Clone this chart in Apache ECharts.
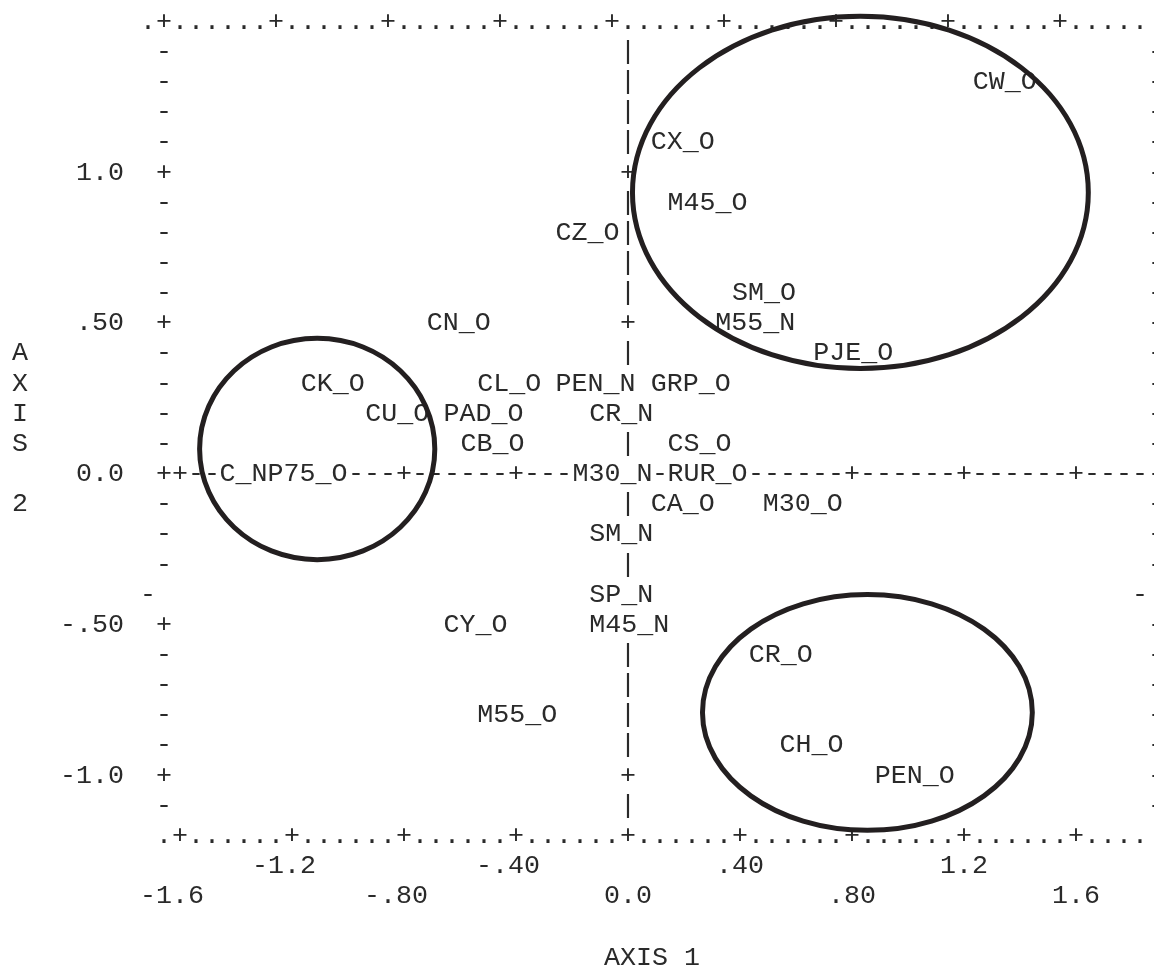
<!DOCTYPE html>
<html><head><meta charset="utf-8">
<script src="https://cdn.jsdelivr.net/npm/echarts@6/dist/echarts.min.js"></script>
<style>html,body{margin:0;padding:0;background:#fff}#c{width:1154px;height:967px}</style>
</head><body><div id="c"></div>
<script>
// ---- data ----
const pointNames = ['CW_O','CX_O','M45_O','CZ_O','SM_O','CN_O','M55_N','PJE_O','CK_O','CL_O','PEN_N','GRP_O','CU_O','PAD_O','CR_N','CB_O','CS_O','C_NP75_O','M30_N','RUR_O','CA_O','M30_O','SM_N','SP_N','CY_O','M45_N','CR_O','M55_O','CH_O','PEN_O'];
const axis1Values = [1.26,0.11,0.17,-0.23,0.40,-0.69,0.34,0.69,-1.14,-0.51,-0.23,0.11,-0.91,-0.63,-0.11,-0.57,0.17,-1.43,-0.17,0.17,0.11,0.51,-0.11,-0.11,-0.63,-0.11,0.46,-0.51,0.57,0.91];
const axis2Values = [1.3,1.1,0.9,0.8,0.6,0.5,0.5,0.4,0.3,0.3,0.3,0.3,0.2,0.2,0.2,0.1,0.1,0.0,0.0,0.0,-0.1,-0.1,-0.2,-0.4,-0.5,-0.5,-0.6,-0.8,-0.9,-1.0];
const axis1TickValues = [-1.6,-1.2,-0.8,-0.4,0,0.4,0.8,1.2,1.6];
const axis1TickLabels = ['-1.6','-1.2','-.80','-.40','0.0','.40','.80','1.2','1.6'];
const axis2TickValues = [-1.0,-0.5,0,0.5,1.0];
const axis2TickLabels = ['-1.0','-.50','0.0','.50','1.0'];
// circled groups: centre (axis1, axis2) and radii in axis units
const groupCx = [0.83,-1.11,0.855];
const groupCy = [0.934,0.083,-0.791];
const groupRx = [0.814,0.42,0.589];
const groupRy = [0.584,0.367,0.391];

// ---- printer grid ----
const COL = 0.4/7;      // one character column on AXIS 1
const ROW = 0.1;        // one printer line on AXIS 2
const XMIN = -30*COL, XMAX = 33*COL, YMIN = -1.2, YMAX = 1.5;
const GRID = {left: 148, top: 21.75, width: 1008, height: 814.05};
const zeroColOffset = -(0 - XMIN) / (XMAX - XMIN) * GRID.width;   // moves a left y axis onto AXIS 1 = 0
const zeroRowOffset = -(0 - YMIN) / (YMAX - YMIN) * GRID.height;  // moves a bottom x axis onto AXIS 2 = 0
const FONT = 'Liberation Mono', FS = 80/3, LH = 30.15, INK = '#2a2a2a';
const col = v => Math.round(v / COL);
const row = v => Math.round(v / ROW);
const isTickCol = c => c % 7 === 0 && Math.abs(c) <= 28;

const txt = {fontFamily: FONT, fontSize: FS, color: INK, lineHeight: LH};

function bottomBorder(v){
  const c = col(v);
  if (c < -29) return '';
  if (isTickCol(c)) {
    const i = axis1TickValues.findIndex(t => Math.abs(t - v) < COL/2);
    let s = axis1TickLabels[i];
    if (s.length % 2 === 0) s += ' ';
    return '+\n' + (i % 2 === 0 ? '\n' : '') + s;
  }
  return '.';
}
function topBorder(v){ const c = col(v); return isTickCol(c + 1) ? '+' : '.'; }
function zeroLine(v){ const c = col(v); if (c < -28) return ''; return isTickCol(c) ? '+' : '-'; }
function leftSide(v){
  const r = row(v);
  if (r >= 15 || r <= -12) return '';
  if (r % 5 === 0) {
    const i = axis2TickValues.findIndex(t => Math.abs(t - v) < ROW/2);
    return axis2TickLabels[i] + '  +';
  }
  return r === -4 ? '- ' : '-';
}
function rightSide(v){
  const r = row(v);
  if (r >= 15 || r <= -12 || r === 0) return '';
  return r === -4 ? '- ' : '-';
}
function centreLine(v){
  const r = row(v);
  if (r >= 15 || r <= -12 || r === 0) return '';
  return r % 5 === 0 ? '+' : '|';
}

const hidden = {show: false};
const noLine = {show: false, onZero: false};
function xAx(extra){
  return Object.assign({type: 'value', min: XMIN, max: XMAX, interval: COL, gridIndex: 0,
    axisTick: hidden, splitLine: hidden, axisLine: noLine}, extra);
}
function yAx(extra){
  return Object.assign({type: 'value', min: YMIN, max: YMAX, interval: ROW, gridIndex: 0,
    axisTick: hidden, splitLine: hidden, axisLine: noLine}, extra);
}
const lab = (fmt, extra) => Object.assign({show: true, formatter: fmt, showMinLabel: true, showMaxLabel: true, hideOverlap: false}, txt, extra);

const chart = echarts.init(document.getElementById('c'), null, {renderer: 'canvas'});
chart.setOption({
  animation: false,
  backgroundColor: '#fff',
  textStyle: {fontFamily: FONT},
  grid: Object.assign({containLabel: false, outerBoundsMode: 'none'}, GRID),
  xAxis: [
    xAx({position: 'bottom', name: 'AXIS 1', nameLocation: 'middle', nameGap: 122, nameMoveOverlap: false,
         nameTextStyle: Object.assign({}, txt, {align: 'center', verticalAlign: 'middle'}),
         axisLabel: lab(bottomBorder, {margin: -LH/2, verticalAlign: 'top', align: 'center'})}),
    xAx({position: 'top', axisLabel: lab(topBorder, {margin: 0, verticalAlign: 'middle', align: 'center'})}),
    xAx({position: 'bottom', offset: zeroRowOffset,
         axisLabel: lab(zeroLine, {margin: 0, verticalAlign: 'middle', align: 'center'})})
  ],
  yAxis: [
    yAx({position: 'left', offset: -16, name: 'A\nX\nI\nS\n \n2', nameLocation: 'middle', nameGap: 144, nameRotate: 0, nameMoveOverlap: false,
         nameTextStyle: Object.assign({}, txt, {align: 'center', verticalAlign: 'middle'}),
         axisLabel: lab(leftSide, {margin: -8, align: 'right', verticalAlign: 'middle'})}),
    yAx({position: 'right', axisLabel: lab(rightSide, {margin: 8, align: 'right', verticalAlign: 'middle'})}),
    yAx({position: 'left', offset: zeroColOffset,
         axisLabel: lab(centreLine, {margin: 0, align: 'center', verticalAlign: 'middle'})})
  ],
  series: [
    {
      type: 'scatter', xAxisIndex: 0, yAxisIndex: 0, silent: true, z: 3,
      symbolSize: 1, itemStyle: {color: 'rgba(0,0,0,0)', opacity: 1},
      data: pointNames.map((n, i) => ({name: n, value: [axis1Values[i], axis2Values[i]]})),
      label: {show: true, position: 'right', distance: 0, offset: [-8.5, 0], formatter: '{b}',
              align: 'left', verticalAlign: 'middle', fontFamily: FONT, fontSize: FS, color: INK,
              opacity: 1, lineHeight: 26, backgroundColor: '#fff', padding: 0}
    },
    {
      type: 'custom', xAxisIndex: 0, yAxisIndex: 0, silent: true, z: 10, clip: false,
      data: groupCx.map((c, i) => [c, groupCy[i], groupRx[i], groupRy[i]]),
      renderItem: function(params, api){
        const c = api.coord([api.value(0), api.value(1)]);
        const s = api.size([api.value(2), api.value(3)]);
        return {type: 'ellipse', shape: {cx: c[0], cy: c[1], rx: s[0], ry: s[1]},
                style: {fill: 'none', stroke: '#231f20', lineWidth: 5}};
      }
    }
  ]
});
</script></body></html>
